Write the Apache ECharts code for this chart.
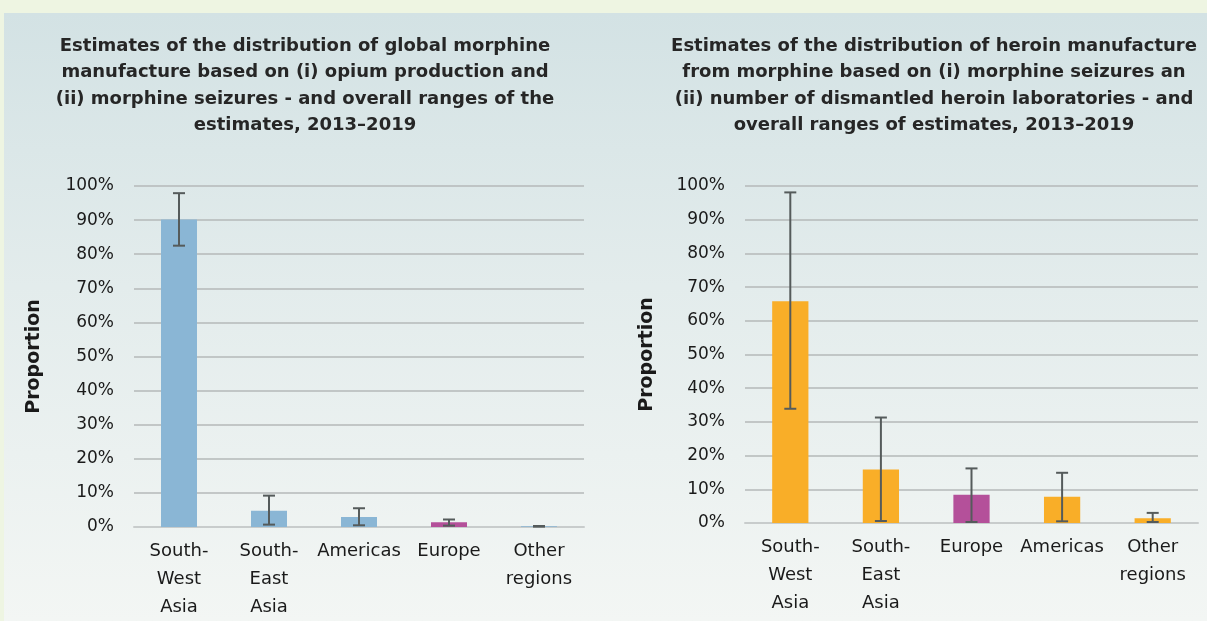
<!DOCTYPE html>
<html><head><meta charset="utf-8">
<script src="https://cdn.jsdelivr.net/npm/echarts@6/dist/echarts.min.js"></script>
<style>
html,body{margin:0;padding:0;width:1207px;height:621px;overflow:hidden;background:#eef5e2;}
#bg{position:absolute;left:4px;top:13px;width:1203px;height:608px;background:linear-gradient(180deg,#d3e2e4 0%,#e3ecec 45%,#f3f6f4 100%);}
#c{position:absolute;left:0;top:0;width:1207px;height:621px;}
</style></head><body>
<div id="bg"></div><div id="c"></div>
<script>
const leftTitle = 'Estimates of the distribution of global morphine\nmanufacture based on (i) opium production and\n(ii) morphine seizures - and overall ranges of the\nestimates, 2013\u20132019';
const rightTitle = 'Estimates of the distribution of heroin manufacture\nfrom morphine based on (i) morphine seizures an\n(ii) number of dismantled heroin laboratories - and\noverall ranges of estimates, 2013\u20132019';
const yAxisName = 'Proportion';

const leftCategories = ['South-\nWest\nAsia', 'South-\nEast\nAsia', 'Americas', 'Europe', 'Other\nregions'];
const leftValues = [90.2, 4.8, 2.9, 1.4, 0.2];
const leftLow = [82.5, 0.7, 0.5, 0.4, 0.1];
const leftHigh = [97.9, 9.2, 5.5, 2.2, 0.3];

const rightCategories = ['South-\nWest\nAsia', 'South-\nEast\nAsia', 'Europe', 'Americas', 'Other\nregions'];
const rightValues = [65.8, 15.9, 8.4, 7.8, 1.4];
const rightLow = [33.9, 0.6, 0.3, 0.5, 0.3];
const rightHigh = [98.1, 31.3, 16.2, 14.9, 3.0];

const yTicks = [0, 10, 20, 30, 40, 50, 60, 70, 80, 90, 100];

const FONT = '"DejaVu Sans", "Open Sans", sans-serif';
const chart = echarts.init(document.getElementById('c'), null, {renderer: 'canvas'});

function barData(cats, vals, base) {
  return vals.map((v, i) => ({
    value: v,
    itemStyle: {color: cats[i] === 'Europe' ? '#b4509a' : base}
  }));
}
function errRender(params, api) {
  const x = api.value(0);
  const lo = api.coord([x, api.value(1)]);
  const hi = api.coord([x, api.value(2)]);
  const cap = 6;
  const st = {stroke: '#555b5b', lineWidth: 2};
  return {type: 'group', children: [
    {type: 'line', shape: {x1: lo[0], y1: lo[1], x2: hi[0], y2: hi[1]}, style: st},
    {type: 'line', shape: {x1: lo[0]-cap, y1: lo[1], x2: lo[0]+cap, y2: lo[1]}, style: st},
    {type: 'line', shape: {x1: hi[0]-cap, y1: hi[1], x2: hi[0]+cap, y2: hi[1]}, style: st}
  ]};
}
function xAx(cats, gi) {
  return {type: 'category', gridIndex: gi, data: cats,
    axisTick: {show: false},
    axisLine: {lineStyle: {color: '#c8cccc', width: 2}},
    axisLabel: {color: '#1a1a1a', fontFamily: FONT, fontSize: 18, lineHeight: 28, margin: 10, interval: 0}};
}
function yAx(gi) {
  return {type: 'value', gridIndex: gi, min: 0, max: 100, interval: 10,
    name: yAxisName, nameLocation: 'middle', nameGap: gi === 0 ? 90 : 88, nameRotate: 90,
    nameTextStyle: {fontFamily: FONT, fontWeight: 'bold', fontSize: 19, color: '#1a1a1a'},
    axisLabel: {formatter: v => yTicks.includes(v) ? v + '%' : '', color: '#1a1a1a', fontFamily: FONT, fontSize: 17, margin: 20},
    splitLine: {lineStyle: {color: '#b4b8b8', width: 1.5}},
    axisLine: {show: false}, axisTick: {show: false}};
}
const titleStyle = {fontFamily: FONT, fontWeight: 'bold', fontSize: 18, color: '#262626', lineHeight: 26.5};

chart.setOption({
  animation: false,
  title: [
    {text: leftTitle, left: 300, top: 28, textAlign: 'center', textStyle: titleStyle},
    {text: rightTitle, left: 929, top: 28, textAlign: 'center', textStyle: titleStyle}
  ],
  grid: [
    {left: 134, right: 623, top: 186, bottom: 94},
    {left: 745, right: 9, top: 186, bottom: 98}
  ],
  xAxis: [xAx(leftCategories, 0), xAx(rightCategories, 1)],
  yAxis: [yAx(0), yAx(1)],
  series: [
    {type: 'bar', xAxisIndex: 0, yAxisIndex: 0, barWidth: '40%', data: barData(leftCategories, leftValues, '#8ab6d5')},
    {type: 'bar', xAxisIndex: 1, yAxisIndex: 1, barWidth: '40%', data: barData(rightCategories, rightValues, '#f9ae28')},
    {type: 'custom', xAxisIndex: 0, yAxisIndex: 0, renderItem: errRender, z: 5,
      data: leftCategories.map((c, i) => [i, leftLow[i], leftHigh[i]])},
    {type: 'custom', xAxisIndex: 1, yAxisIndex: 1, renderItem: errRender, z: 5,
      data: rightCategories.map((c, i) => [i, rightLow[i], rightHigh[i]])}
  ]
});
</script>
</body></html>
